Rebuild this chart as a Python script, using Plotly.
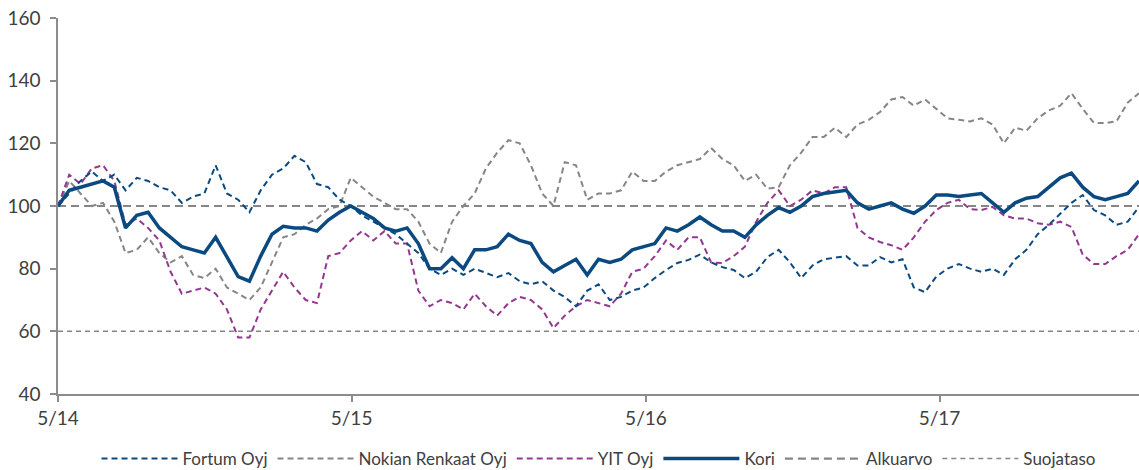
import pandas as pd
import plotly.graph_objects as go

# Biweekly observation dates (index starts 15 May 2014 = 100)
dates = pd.date_range("2014-05-15", periods=97, freq="14D")

kori = [100, 105, 106, 107, 108, 106, 93, 97, 98, 93,
        90, 87, 86, 85, 90, 84, 77.5, 76, 84, 91,
        93.5, 93, 93, 92, 95.5, 98, 100, 98, 96, 93,
        92, 93, 88, 80, 80, 83.5, 80, 86, 86, 87,
        91, 89, 88, 82, 79, 81, 83, 78, 83, 82,
        83, 86, 87, 88, 93, 92, 94, 96.5, 94, 92,
        92, 90, 94, 97, 99.5, 98, 100, 103, 104, 104.5,
        105, 101, 99, 100, 101, 99, 97.7, 100, 103.5, 103.5,
        103, 103.5, 104, 101, 98, 101, 102.5, 103, 106, 109,
        110.5, 106, 103, 102, 103, 104, 108]

fortum = [100, 104, 108, 111, 108, 110, 105, 109, 108, 106,
          105, 101, 103, 104, 113, 104, 102, 98, 105, 110,
          112, 116, 114, 107, 106, 102, 100, 97, 95, 93,
          91, 88, 85, 80, 78, 80, 78, 80, 78.6, 77.3,
          78.6, 76, 75, 76, 73, 71, 68, 73, 75, 70,
          71, 73, 74, 77, 79.6, 81.8, 82.8, 84.5, 82, 80.5,
          79.6, 77, 79, 83.7, 86, 82, 77, 81, 83, 83.5,
          84, 81, 81, 83.7, 82, 83, 74, 72.5, 77.5, 80,
          81.5, 80, 79, 80, 78, 83, 86, 91, 94, 97.5,
          101, 103.5, 98.7, 97, 94, 95, 99.7]

nokian = [100, 108, 104, 100, 101, 95, 85, 86, 90, 85,
          82, 84, 78, 77, 80, 74, 72, 70, 74, 82,
          90, 91, 94, 96, 99, 100, 109, 106, 103, 101,
          99, 99, 95, 88, 85, 95, 100, 104, 112, 117,
          121, 120, 113, 104, 100, 114, 113, 102, 104, 104,
          105, 111, 108, 108, 111, 113, 114, 115, 118.5, 115,
          113, 108, 110, 105.5, 106, 113, 117, 122, 122, 125,
          122, 126, 127.5, 130, 134, 134.8, 132, 134, 131, 128,
          127.5, 127, 128, 126, 120, 125, 124, 128, 130.5, 132,
          136, 131, 126.5, 126.5, 127, 133, 136]

yit = [100, 110, 107, 112, 113, 108, 94, 96, 93, 89,
       79, 72, 73, 74, 72, 67, 58, 58, 67, 73,
       79, 74, 70, 69, 84, 85, 89, 92, 89, 92,
       88, 88, 73, 68, 70, 69, 67, 72, 68, 65,
       69, 71, 70, 67, 61, 65, 68, 70, 69, 68,
       72, 79, 80, 84, 89, 86, 90, 90, 82, 81.8,
       84, 87, 95, 101, 105, 100, 102, 105, 104, 106,
       106, 93, 90, 88.5, 87.5, 86, 90, 95, 98.7, 101,
       102, 99, 98.7, 99.7, 97, 96, 96, 94.5, 94, 95,
       93.3, 84.5, 81.5, 81.5, 84, 86, 91]

alkuarvo = 100
suojataso = 60

tick_dates = ["2014-05-15", "2015-05-15", "2016-05-15", "2017-05-15"]
tick_labels = ["5/14", "5/15", "5/16", "5/17"]
y_ticks = [40, 60, 80, 100, 120, 140, 160]

NAVY = "#0B4A80"
GRAY = "#868686"
PURPLE = "#93388F"

fig = go.Figure()
x_span = [dates[0], dates[-1]]

fig.add_trace(go.Scatter(x=x_span, y=[alkuarvo, alkuarvo], mode="lines", name="Alkuarvo",
                         line=dict(color=GRAY, width=2.2, dash="8px,5px"), legendrank=5))
fig.add_trace(go.Scatter(x=x_span, y=[suojataso, suojataso], mode="lines", name="Suojataso",
                         line=dict(color=GRAY, width=1.5, dash="5px,4px"), legendrank=6))
fig.add_trace(go.Scatter(x=dates, y=nokian, mode="lines", name="Nokian Renkaat Oyj",
                         line=dict(color=GRAY, width=2, dash="6px,4px"), legendrank=2))
fig.add_trace(go.Scatter(x=dates, y=yit, mode="lines", name="YIT Oyj",
                         line=dict(color=PURPLE, width=2, dash="6px,4px"), legendrank=3))
fig.add_trace(go.Scatter(x=dates, y=fortum, mode="lines", name="Fortum Oyj",
                         line=dict(color=NAVY, width=2, dash="6px,4px"), legendrank=1))
fig.add_trace(go.Scatter(x=dates, y=kori, mode="lines", name="Kori",
                         line=dict(color=NAVY, width=3.5), legendrank=4))

fig.update_layout(
    width=1139, height=470,
    margin=dict(l=58, r=0, t=18, b=76, autoexpand=False),
    paper_bgcolor="white", plot_bgcolor="white",
    font=dict(family="Lato, 'Open Sans', sans-serif", color="#404040", size=16),
    showlegend=True,
    legend=dict(orientation="h", x=0.5, xanchor="center", y=-0.125, yanchor="top",
                font=dict(size=17, color="#404040"), traceorder="normal",
                itemwidth=76),
    hovermode=False,
)
fig.update_xaxes(
    type="date", range=[dates[0], dates[-1]], automargin=False,
    tickmode="array", tickvals=tick_dates, ticktext=tick_labels,
    showline=True, linecolor="#8C8C8C", linewidth=1.5,
    ticks="outside", ticklen=6, tickcolor="#8C8C8C", tickwidth=1.5,
    showgrid=False, zeroline=False, tickfont=dict(size=19, color="#404040"),
)
fig.update_yaxes(
    range=[40, 160], tickmode="array", tickvals=y_ticks, automargin=False,
    showline=True, linecolor="#8C8C8C", linewidth=1.5,
    ticks="outside", ticklen=6, tickcolor="#8C8C8C", tickwidth=1.5,
    ticklabelstandoff=6,
    showgrid=False, zeroline=False, tickfont=dict(size=19, color="#404040"),
)

fig.write_html(
    "out.html",
    config={"displayModeBar": False},
    post_script="document.body.style.margin='0';document.body.style.overflow='hidden';",
)
